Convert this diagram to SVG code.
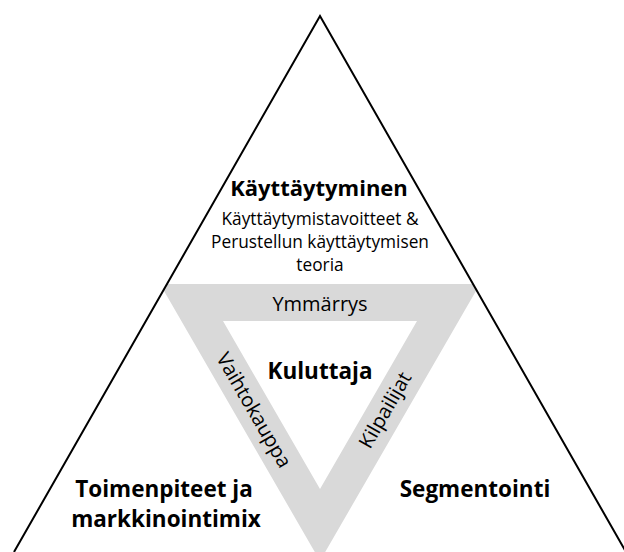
<svg xmlns="http://www.w3.org/2000/svg" width="624" height="552" viewBox="0 0 624 552">
  <style>
    .lbl { font-family: "Open Sans", "Noto Sans", "Liberation Sans", sans-serif; fill: #000; text-anchor: middle; }
    .bold { font-weight: 700; }
    .head { font-size: 22px; }
    .big { font-size: 22.5px; }
    .sub { font-size: 17.3px; }
    .band { font-size: 20px; }
  </style>
  <defs>
    <clipPath id="frameClip">
      <polygon points="320,16 14,552 626,552"/>
    </clipPath>
  </defs>

  <rect width="624" height="552" fill="#fff"/>

  <!-- grey ring between the outer and inner inverted triangles -->
  <g id="ring" clip-path="url(#frameClip)">
    <path d="M160,284 L480,284 L320,561 Z M223,321 L320,489 L417,321 Z" fill="#d9d9d9" fill-rule="evenodd"/>
  </g>

  <!-- outer triangle sides -->
  <g id="frame">
    <polyline points="14,552 320,16 626,552" fill="none" stroke="#000" stroke-width="2"/>
  </g>

  <g id="top-node">
    <text class="lbl bold head" x="319" y="196">Käyttäytyminen</text>
    <text class="lbl sub" x="320" y="225">Käyttäytymistavoitteet &amp;</text>
    <text class="lbl sub" x="320" y="248">Perustellun käyttäytymisen</text>
    <text class="lbl sub" x="320" y="271">teoria</text>
  </g>

  <g id="centre-node">
    <text class="lbl bold big" x="320" y="379">Kuluttaja</text>
  </g>

  <g id="ring-labels">
    <text class="lbl band" x="320" y="311">Ymmärrys</text>
    <text class="lbl band" transform="translate(254,410) rotate(60)" x="0" y="7">Vaihtokauppa</text>
    <text class="lbl band" transform="translate(385,410) rotate(-60)" x="0" y="7">Kilpailijat</text>
  </g>

  <g id="left-node">
    <text class="lbl bold big" x="164" y="497">Toimenpiteet ja</text>
    <text class="lbl bold big" x="166" y="527">markkinointimix</text>
  </g>

  <g id="right-node">
    <text class="lbl bold big" x="475" y="497">Segmentointi</text>
  </g>
</svg>
